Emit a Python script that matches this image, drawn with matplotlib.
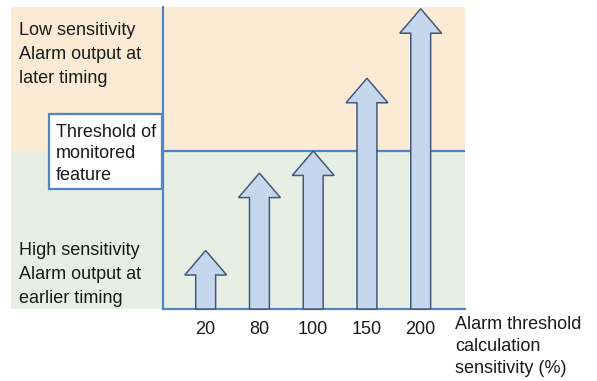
import matplotlib.pyplot as plt
from matplotlib.patches import Rectangle

# Data
sensitivities = ["20", "80", "100", "150", "200"]
feature_level = [37, 86, 100, 146, 190]   # arrow height, threshold = 100
threshold_level = 100

low_lines = ["Low sensitivity", "Alarm output at", "later timing"]
high_lines = ["High sensitivity", "Alarm output at", "earlier timing"]
box_lines = ["Threshold of", "monitored", "feature"]
xlabel_lines = ["Alarm threshold", "calculation", "sensitivity (%)"]

# Colours
ORANGE = "#fbebd5"
GREEN = "#e7eee3"
LINE = "#4f86c5"
ARROW_FILL = "#c5d6ed"
ARROW_EDGE = "#44597a"

plt.rcParams["font.family"] = ["Liberation Sans", "DejaVu Sans"]
FS = 13

W, H = 597, 381
fig = plt.figure(figsize=(W / 100, H / 100), dpi=100)

# -----------------------
# Background layer in pixel coordinates
# -----------------------
bg = fig.add_axes([0, 0, 1, 1], zorder=0)
bg.set_xlim(0, W)
bg.set_ylim(H, 0)
bg.axis("off")

bg.add_patch(Rectangle((11, 7), 454, 144, color=ORANGE, lw=0))
bg.add_patch(Rectangle((11, 151), 454, 158, color=GREEN, lw=0))


def put_lines(x, first_baseline, step, lines):
    for i, s in enumerate(lines):
        bg.text(x, first_baseline + i * step, s, fontsize=FS, ha="left",
                va="baseline", color="#1a1a1a")


put_lines(19, 35, 24, low_lines)
put_lines(19, 255, 24, high_lines)

# -----------------------
# Main axes: arrows
# -----------------------
x0, x1, y0, y1 = 163, 465, 309, 7
ax = fig.add_axes([x0 / W, (H - y0) / H, (x1 - x0) / W, (y0 - y1) / H], zorder=2)
ax.patch.set_visible(False)
ax.set_xlim(-0.794, 4.824)
ax.set_ylim(0, 191.1)

for i, h in enumerate(feature_level):
    ax.arrow(i, 0, 0, h, width=0.37, head_width=0.78, head_length=15.5,
             length_includes_head=True, fc=ARROW_FILL, ec=ARROW_EDGE, lw=1.1,
             zorder=3, clip_on=False)

ax.axhline(threshold_level, color=LINE, lw=1.6, zorder=2)

for side in ["top", "right"]:
    ax.spines[side].set_visible(False)
for side in ["left", "bottom"]:
    ax.spines[side].set_color(LINE)
    ax.spines[side].set_linewidth(1.6)

ax.set_yticks([])
ax.set_xticks(range(len(sensitivities)), sensitivities)
ax.tick_params(axis="x", length=0, pad=8.5, labelsize=FS, labelcolor="#1a1a1a")

# -----------------------
# Threshold box and axis label (on top)
# -----------------------
top = fig.add_axes([0, 0, 1, 1], zorder=3)
top.set_xlim(0, W)
top.set_ylim(H, 0)
top.axis("off")
top.add_patch(Rectangle((49, 114), 113, 75, fc="white", ec=LINE, lw=1.6))
for i, s in enumerate(box_lines):
    top.text(56, 137 + i * 21.5, s, fontsize=FS, ha="left", va="baseline",
             color="#1a1a1a")
for i, s in enumerate(xlabel_lines):
    top.text(455, 329 + i * 22, s, fontsize=FS, ha="left", va="baseline",
             color="#1a1a1a")

fig.savefig("out.png", dpi=100)
